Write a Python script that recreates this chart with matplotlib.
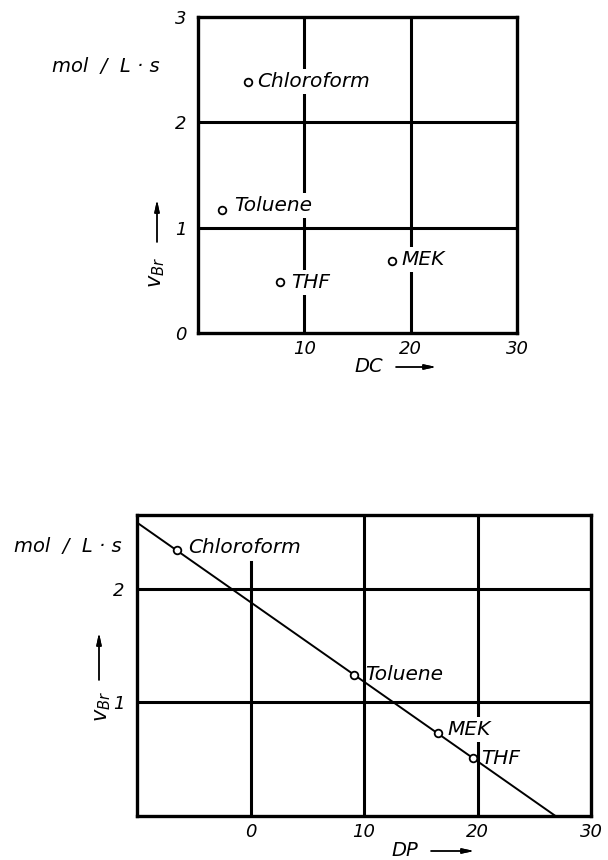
import numpy as np
import matplotlib.pyplot as plt

plt.rcParams["font.family"] = ["DejaVu Sans"]
plt.rcParams["font.style"] = "italic"
plt.rcParams["mathtext.fontset"] = "dejavusans"

W, H = 608, 860

# upper panel: v_Br against DC
dc_solvents = ["Chloroform", "Toluene", "THF", "MEK"]
dc_values = [4.7, 2.3, 7.7, 18.2]
dc_rates = [2.38, 1.17, 0.48, 0.68]

# lower panel: v_Br against DP
dp_solvents = ["Chloroform", "Toluene", "MEK", "THF"]
dp_values = [-6.5, 9.1, 16.5, 19.6]
dp_rates = [2.34, 1.24, 0.73, 0.51]

top_xticks = [10, 20, 30]
top_yticks = [0, 1, 2, 3]
bottom_xticks = [0, 10, 20, 30]
bottom_yticks = [1, 2]

LABEL_FS = 14.5
TICK_FS = 13


def px(x, y):
    # top-left pixel position -> figure pixels
    return (x, H - y)


def frac(x, y):
    # top-left pixel position -> figure fraction
    return (x / W, 1 - y / H)


def setup_axes(ax, xlim, ylim, xticks, yticks, xpad, ypad):
    ax.set_xlim(*xlim)
    ax.set_ylim(*ylim)
    ax.set_xticks(xticks)
    ax.set_yticks(yticks)
    ax.set_xticklabels([str(t) for t in xticks], fontsize=TICK_FS)
    ax.set_yticklabels([str(t) for t in yticks], fontsize=TICK_FS)
    ax.tick_params(axis="x", length=0, pad=xpad)
    ax.tick_params(axis="y", length=0, pad=ypad)
    for s in ax.spines.values():
        s.set_linewidth(2.4)
        s.set_zorder(6)


def axis_labels(fig, unit_xy, vbr_xy, arrow_up, xlabel, xlabel_xy, arrow_right):
    fig.text(*frac(*unit_xy), "mol  /  L · s", fontsize=14, ha="center", va="center")
    fig.text(*frac(*vbr_xy), r"$v_{Br}$", fontsize=15, rotation=90,
             ha="center", va="center")
    fig.text(*frac(*xlabel_xy), xlabel, fontsize=14, ha="center", va="center")
    arrow = dict(arrowstyle="-|>,head_length=0.7,head_width=0.15", lw=1.0,
                 color="black", shrinkA=0, shrinkB=0)
    for (x0, y0), (x1, y1) in (arrow_up, arrow_right):
        fig.add_artist(plt.annotate("", xy=px(x1, y1), xytext=px(x0, y0),
                                    xycoords="figure pixels",
                                    textcoords="figure pixels",
                                    arrowprops=arrow))


fig = plt.figure(figsize=(W / 100, H / 100), dpi=100)

# ---------------- upper panel ----------------
ax1 = fig.add_axes([198 / W, 1 - 333 / H, 319 / W, 316 / H])
setup_axes(ax1, (0, 30), (0, 3), top_xticks, top_yticks, 5, 8)
for g in [10, 20]:
    ax1.axvline(g, color="black", lw=2.2, zorder=1)
for g in [1, 2]:
    ax1.axhline(g, color="black", lw=2.2, zorder=1)

ax1.plot(dc_values, dc_rates, "o", ms=5.5, mfc="white", mec="black",
         mew=1.3, zorder=5)
top_offsets = {"Chloroform": (9, 1), "Toluene": (12, 4),
               "THF": (11, 0), "MEK": (10, 2)}
for name, x, y in zip(dc_solvents, dc_values, dc_rates):
    ax1.annotate(name, (x, y), xytext=top_offsets[name],
                 textcoords="offset pixels", fontsize=LABEL_FS,
                 ha="left", va="center", zorder=3,
                 bbox=dict(boxstyle="square,pad=0.15", fc="white", ec="none"))

axis_labels(fig, (106, 67), (157, 272), ((157, 242), (157, 200)),
            "DC", (369, 367), ((396, 367), (436, 367)))

# ---------------- lower panel ----------------
ax2 = fig.add_axes([137 / W, 1 - 816 / H, 454 / W, 301 / H])
setup_axes(ax2, (-10, 30), (0, 2.65), bottom_xticks, bottom_yticks, 5, 9)
ax2.axvline(0, ymax=2.24 / 2.65, color="black", lw=2.2, zorder=1)
for g in [10, 20]:
    ax2.axvline(g, color="black", lw=2.2, zorder=1)
for g in [1, 2]:
    ax2.axhline(g, color="black", lw=2.2, zorder=1)

# straight line fitted through the four solvents
slope, icpt = np.polyfit(dp_values, dp_rates, 1)
x_line = np.array([-10, -icpt / slope])
ax2.plot(x_line, slope * x_line + icpt, color="black", lw=1.4, zorder=4,
         solid_capstyle="butt")

ax2.plot(dp_values, dp_rates, "o", ms=5.5, mfc="white", mec="black",
         mew=1.3, zorder=5)
bottom_offsets = {"Chloroform": (11, 3), "Toluene": (11, 1),
                  "MEK": (10, 4), "THF": (8, 0)}
masked = {"MEK"}
for name, x, y in zip(dp_solvents, dp_values, dp_rates):
    box = None
    if name in masked:
        box = dict(boxstyle="square,pad=0.15", fc="white", ec="none")
    ax2.annotate(name, (x, y), xytext=bottom_offsets[name],
                 textcoords="offset pixels", fontsize=LABEL_FS,
                 ha="left", va="center", zorder=3, bbox=box)

axis_labels(fig, (68, 547), (103, 706), ((99, 680), (99, 633)),
            "DP", (405, 851), ((431, 851), (474, 851)))

fig.savefig("out.png", dpi=100)
